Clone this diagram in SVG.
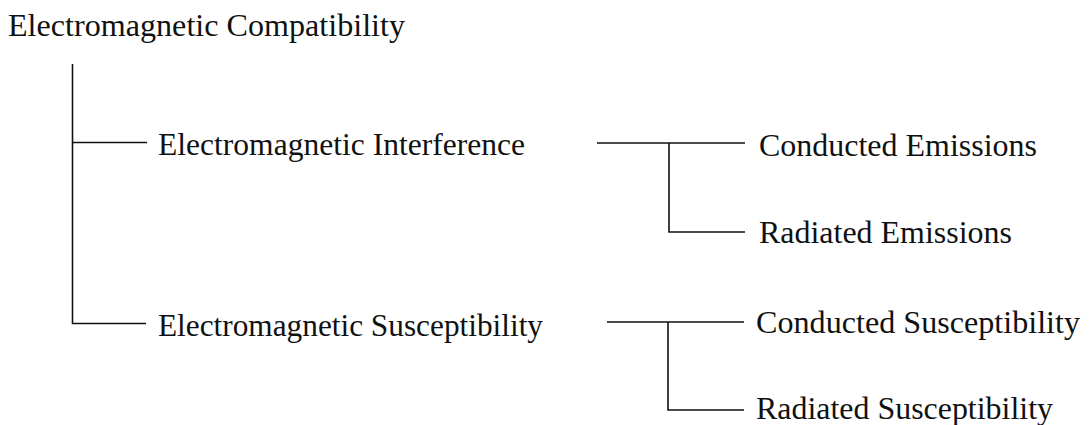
<svg xmlns="http://www.w3.org/2000/svg" width="1090" height="425" viewBox="0 0 1090 425">
<style>
text{font-family:"Liberation Serif","Times New Roman",serif;font-size:31px;fill:#111}
.c{fill:none;stroke:#111;stroke-width:1.6}
</style>
<rect width="1090" height="425" fill="#fff"/>
<g id="connectors">
<path class="c" d="M72.5 64V323.5H146M72.5 142.5H147"/>
<path class="c" d="M597 143H745M669 143V232H745"/>
<path class="c" d="M607 322H744M668 322V410H744"/>
</g>
<g id="emc"><text x="8" y="36" textLength="397" lengthAdjust="spacingAndGlyphs">Electromagnetic Compatibility</text></g>
<g id="emi"><text x="158" y="155" textLength="367" lengthAdjust="spacingAndGlyphs">Electromagnetic Interference</text></g>
<g id="ems"><text x="158" y="336" textLength="385" lengthAdjust="spacingAndGlyphs">Electromagnetic Susceptibility</text></g>
<g id="ce"><text x="759" y="156" textLength="278" lengthAdjust="spacingAndGlyphs">Conducted Emissions</text></g>
<g id="re"><text x="759" y="243" textLength="253" lengthAdjust="spacingAndGlyphs">Radiated Emissions</text></g>
<g id="cs"><text x="756" y="333" textLength="324" lengthAdjust="spacingAndGlyphs">Conducted Susceptibility</text></g>
<g id="rs"><text x="756" y="419" textLength="297" lengthAdjust="spacingAndGlyphs">Radiated Susceptibility</text></g>
</svg>
